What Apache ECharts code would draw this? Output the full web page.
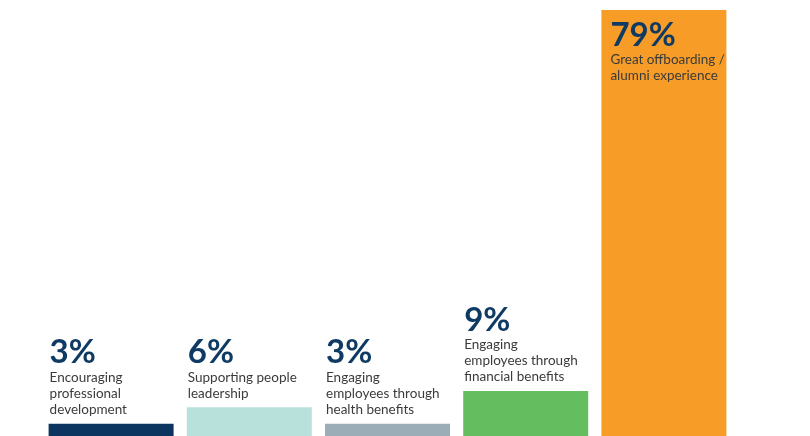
<!DOCTYPE html>
<html>
<head>
<meta charset="utf-8">
<script src="https://cdn.jsdelivr.net/npm/echarts@6/dist/echarts.min.js"></script>
<style>
  html, body { margin: 0; padding: 0; background: #ffffff; overflow: hidden; }
  /* the baseline sits just below the visible edge */
  #chart { width: 810px; height: 440px; }
</style>
</head>
<body>
<div id="chart"></div>
<script>
// Survey results: share of respondents per priority
const categories = [
  'Encouraging\nprofessional\ndevelopment',
  'Supporting people\nleadership',
  'Engaging\nemployees through\nhealth benefits',
  'Engaging\nemployees through\nfinancial benefits',
  'Great offboarding /\nalumni experience'
];
const values = [3, 6, 3, 9, 79];
const barColors = ['#0b355f', '#b8e1dc', '#9badb7', '#64bd5f', '#f69c27'];

const fontFamily = 'Lato, "Open Sans", sans-serif';

const richStyles = {
  v: { fontSize: 33, fontWeight: 'bold', color: '#0e3a63', lineHeight: 34, fontFamily: fontFamily },
  t: { fontSize: 13.5, color: '#3b3b3b', lineHeight: 16, fontFamily: fontFamily }
};

function labelText(i) {
  const lines = categories[i].split('\n').map(l => '{t|' + l + '}');
  return '{v|' + values[i] + '%}\n' + lines.join('\n');
}

const chart = echarts.init(document.getElementById('chart'), null, { renderer: 'canvas' });

const data = values.map((v, i) => {
  const item = {
    value: v,
    itemStyle: { color: barColors[i] },
    label: {
      show: true,
      position: [1, -6],
      align: 'left',
      verticalAlign: 'bottom',
      formatter: labelText(i),
      rich: richStyles
    }
  };
  // The tallest bar carries its label inside, at the top-left corner
  if (i === values.length - 1) {
    item.label.position = [9, 8];
    item.label.verticalAlign = 'top';
  }
  return item;
});

chart.setOption({
  animation: false,
  grid: { left: 42, right: 77, top: 10, bottom: 0, containLabel: false },
  xAxis: {
    type: 'category',
    data: categories,
    show: false
  },
  yAxis: {
    type: 'value',
    min: 0,
    max: 79,
    show: false
  },
  series: [{
    type: 'bar',
    barWidth: 125,
    data: data
  }]
});
</script>
</body>
</html>
